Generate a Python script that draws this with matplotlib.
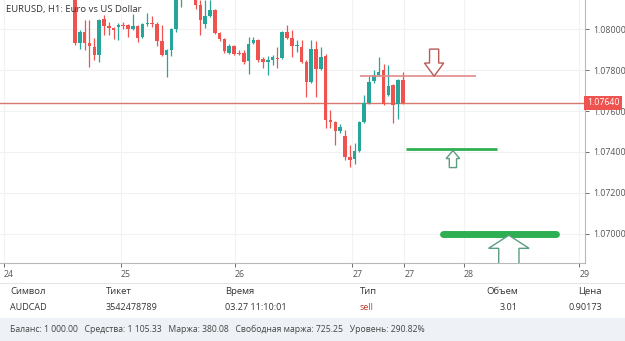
import matplotlib
matplotlib.use("Agg")
import matplotlib.pyplot as plt
from matplotlib.patches import Polygon, Rectangle

plt.rcParams['font.family'] = ['Open Sans', 'DejaVu Sans']

# Свечи EURUSD H1 (open, high, low, close)
opens = [1.08200, 1.07931, 1.07985, 1.07931, 1.07912, 1.07873, 1.08048, 1.08014, 1.08004, 1.08009,
         1.08019, 1.08019, 1.07999, 1.08014, 1.07960, 1.08024, 1.08029, 1.08024, 1.07941, 1.07873,
         1.07897, 1.07999, 1.08160, 1.08200, 1.08220, 1.08160, 1.08117, 1.08024, 1.08063, 1.08092,
         1.07980, 1.07951, 1.07882, 1.07917, 1.07882, 1.07882, 1.07843, 1.07931, 1.07946, 1.07853,
         1.07838, 1.07848, 1.07858, 1.07858, 1.07985, 1.07956, 1.07917, 1.07912, 1.07838, 1.07741,
         1.07902, 1.07804, 1.07868, 1.07555, 1.07546, 1.07502, 1.07477, 1.07375, 1.07365, 1.07404,
         1.07546, 1.07638, 1.07746, 1.07775, 1.07799, 1.07677, 1.07726, 1.07634, 1.07751]
highs = [1.08330, 1.07995, 1.08043, 1.08043, 1.07956, 1.08048, 1.08068, 1.08034, 1.08009, 1.08029,
         1.08034, 1.08024, 1.08073, 1.08019, 1.08029, 1.08078, 1.08063, 1.08034, 1.08019, 1.07902,
         1.08004, 1.08200, 1.08230, 1.08260, 1.08250, 1.08180, 1.08141, 1.08141, 1.08141, 1.08100,
         1.07985, 1.07956, 1.07926, 1.07920, 1.07897, 1.07897, 1.07960, 1.07960, 1.07951, 1.07863,
         1.07868, 1.07873, 1.07912, 1.07990, 1.08019, 1.07995, 1.07946, 1.07946, 1.07848, 1.07946,
         1.07941, 1.07912, 1.07878, 1.07604, 1.07551, 1.07536, 1.07507, 1.07433, 1.07443, 1.07550,
         1.07677, 1.07770, 1.07799, 1.07863, 1.07829, 1.07824, 1.07730, 1.07755, 1.07790]
lows = [1.07921, 1.07902, 1.07897, 1.07814, 1.07848, 1.07838, 1.07970, 1.07970, 1.07951, 1.07946,
        1.07999, 1.07960, 1.07995, 1.07936, 1.07956, 1.08014, 1.08009, 1.07917, 1.07868, 1.07765,
        1.07868, 1.07985, 1.08107, 1.08160, 1.08150, 1.08100, 1.07970, 1.08004, 1.08058, 1.07975,
        1.07941, 1.07882, 1.07878, 1.07873, 1.07873, 1.07829, 1.07780, 1.07926, 1.07838, 1.07809,
        1.07775, 1.07824, 1.07809, 1.07853, 1.07951, 1.07863, 1.07887, 1.07834, 1.07668, 1.07736,
        1.07668, 1.07799, 1.07516, 1.07516, 1.07433, 1.07492, 1.07360, 1.07326, 1.07341, 1.07399,
        1.07541, 1.07634, 1.07736, 1.07770, 1.07629, 1.07672, 1.07541, 1.07560, 1.07634]
closes = [1.07931, 1.07985, 1.07931, 1.07917, 1.07873, 1.08043, 1.08014, 1.08004, 1.07995, 1.08019,
          1.08014, 1.07999, 1.08014, 1.07956, 1.08024, 1.08029, 1.08024, 1.07941, 1.07873, 1.07897,
          1.07999, 1.08160, 1.08200, 1.08220, 1.08180, 1.08117, 1.08043, 1.08063, 1.08092, 1.07980,
          1.07951, 1.07892, 1.07917, 1.07880, 1.07880, 1.07838, 1.07926, 1.07946, 1.07848, 1.07838,
          1.07848, 1.07863, 1.07853, 1.07985, 1.07956, 1.07917, 1.07921, 1.07838, 1.07741, 1.07902,
          1.07804, 1.07863, 1.07555, 1.07546, 1.07502, 1.07521, 1.07375, 1.07362, 1.07404, 1.07546,
          1.07638, 1.07741, 1.07775, 1.07790, 1.07634, 1.07721, 1.07629, 1.07751, 1.07640]

# Оси
price_ticks = [1.07000, 1.07200, 1.07400, 1.07600, 1.07800, 1.08000]
day_pos = [-14.8, 9.5, 33.2, 57.5, 68.3, 80.7, 104.6]
day_labels = ['24', '25', '26', '27', '27', '28', '29']
x_range = (-15.56, 105.8)
y_range = (1.068585, 1.081415)

# Уровни: (цена, начало, конец)
sell_level = (1.07770, 59.1, 83.2)
buy_level = (1.07415, 68.7, 87.6)
target_level = (1.07000, 76.3, 99.8)

title = "EURUSD, H1: Euro vs US Dollar"

header = ['Символ', 'Тикет', 'Время', 'Тип', 'Объем', 'Цена']
row = ['AUDCAD', '3542478789', '03.27 11:10:01', 'sell', '3.01', '0.90173']
footer = ("Баланс: 1 000.00   Средства: 1 105.33   Маржа: 380.08   "
          "Свободная маржа: 725.25   Уровень: 290.82%")

UP = '#26a69a'
DOWN = '#ef5350'
W, H = 625, 341


def draw_arrow(ax, xc, tip, length, head_len, head_w, shaft_w, up, color):
    s = 1 if up else -1
    base = tip - s * length
    neck = tip - s * head_len
    pts = [(xc, tip), (xc + head_w / 2, neck), (xc + shaft_w / 2, neck),
           (xc + shaft_w / 2, base), (xc - shaft_w / 2, base),
           (xc - shaft_w / 2, neck), (xc - head_w / 2, neck)]
    ax.add_patch(Polygon(pts, closed=True, facecolor='white', edgecolor=color,
                         linewidth=1.0, zorder=6))


fig = plt.figure(figsize=(W / 100, H / 100), dpi=100)
ax = fig.add_axes([0, 78 / H, 585 / W, 263 / H])

# Свечи
for i, (o, h, l, c) in enumerate(zip(opens, highs, lows, closes)):
    col = UP if c >= o else DOWN
    ax.vlines(i, l, h, color=col, linewidth=0.9, zorder=3)
    body = max(abs(c - o), 0.000025)
    ax.bar(i, body, bottom=min(o, c), width=0.74, color=col, linewidth=0, zorder=4)

# Линия текущей цены
last = closes[-1]
ax.axhline(last, color='#d9786c', linewidth=1.0, zorder=2)
ax.text(1.003, last, f"{last:.5f}", transform=ax.get_yaxis_transform(), ha='left',
        va='center', fontsize=6.3, color='white', clip_on=False, zorder=10,
        bbox=dict(facecolor='#ef5350', edgecolor='none', pad=1.8))

# Уровни и стрелки
ax.hlines(sell_level[0], sell_level[1], sell_level[2], color='#e08a8a', linewidth=1.2, zorder=5)
ax.hlines(buy_level[0], buy_level[1], buy_level[2], color='#2eb052', linewidth=2.0, zorder=5)
ax.hlines(target_level[0], target_level[1], target_level[2], color='#2eb052', linewidth=5,
          capstyle='round', zorder=5)

draw_arrow(ax, 74.5, sell_level[0], 0.00132, 0.00064, 4.0, 1.9, False, '#b85a55')
draw_arrow(ax, 78.4, buy_level[0] - 0.00008, 0.00083, 0.00039, 2.8, 1.5, True, '#5c9c80')
draw_arrow(ax, 90.0, target_level[0] - 0.00006, 0.0020, 0.00064, 8.4, 4.2, True, '#5c9c80')

ax.set_xlim(*x_range)
ax.set_ylim(*y_range)
ax.yaxis.tick_right()
ax.set_yticks(price_ticks)
ax.set_yticklabels([f"{p:.5f}" for p in price_ticks])
ax.set_xticks(day_pos)
ax.set_xticklabels(day_labels)
for lab in ax.get_xticklabels():
    lab.set_horizontalalignment('left')
ax.tick_params(axis='both', labelsize=6.3, colors='#555555', length=3, width=0.6, pad=2)
ax.tick_params(axis='y', pad=3)
ax.grid(True, color='#f2f2f2', linewidth=0.8, zorder=0)
for side in ['top', 'left']:
    ax.spines[side].set_visible(False)
for side in ['right', 'bottom']:
    ax.spines[side].set_color('#b8b8b8')
    ax.spines[side].set_linewidth(0.8)

ax.text(0.01, 0.965, title, transform=ax.transAxes, fontsize=6.8, color='#333333',
        ha='left', va='center', zorder=11)

# Таблица ордеров
fig.add_artist(plt.Line2D([0, 1], [1 - 283 / H, 1 - 283 / H], color='#e6e6e6', linewidth=0.8))
col_x = [10, 106, 225, 360, 518, 602]
col_ha = ['left', 'left', 'left', 'left', 'right', 'right']
for x, ha, h_txt, r_txt in zip(col_x, col_ha, header, row):
    fig.text(x / W, 1 - 291 / H, h_txt, fontsize=6.8, color='#333333', ha=ha, va='center')
    fig.text(x / W, 1 - 308 / H, r_txt, fontsize=6.5,
             color='#c0392b' if r_txt == 'sell' else '#333333', ha=ha, va='center')

fig.add_artist(Rectangle((0, 0), 1, 23 / H, transform=fig.transFigure,
                         facecolor='#eef1f5', edgecolor='none', zorder=0))
fig.text(10 / W, 1 - 329 / H, footer, fontsize=6.2, color='#444444', ha='left', va='center')

fig.savefig('out.png', dpi=100)
